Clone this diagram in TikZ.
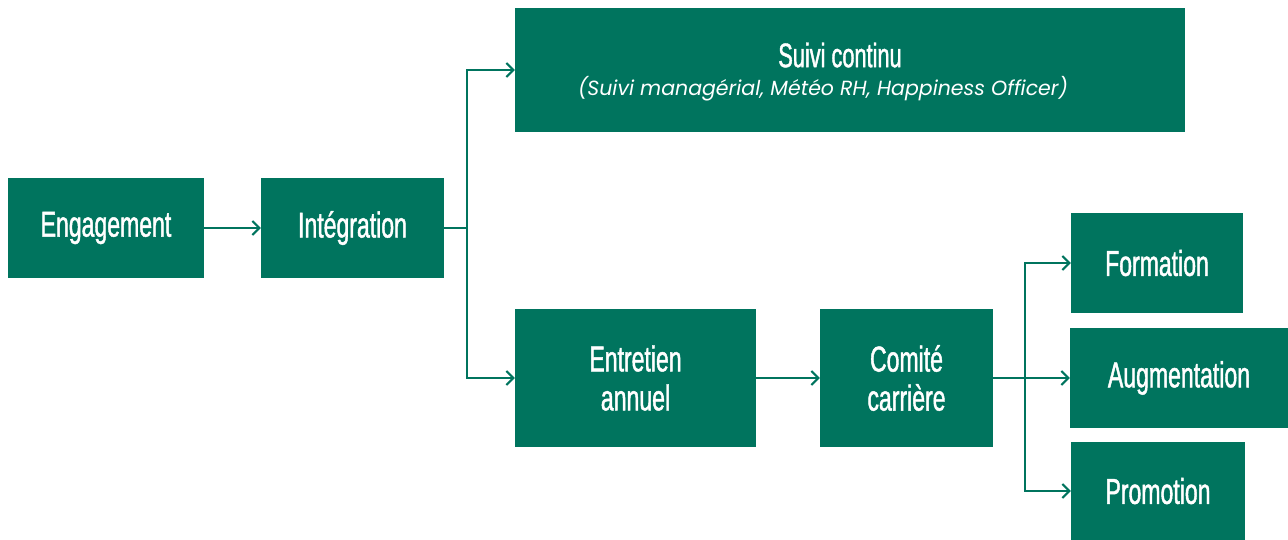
\documentclass[tikz,border=0pt]{standalone}
\usepackage{fontspec}
\setmainfont{Liberation Sans}
\newfontfamily\stepfont[FakeStretch=0.64,FakeBold=1.2]{Liberation Sans}
\newfontfamily\notefont{Poppins}
\usetikzlibrary{arrows.meta}
\definecolor{pine}{RGB}{0,116,94}
\tikzset{
    box/.style={fill=pine, text=white, inner sep=0pt, align=center,
        font=\stepfont\fontsize{36}{39}\selectfont},
    link/.style={draw=pine, line width=2pt,
        -{Straight Barb[length=7pt,width=14pt]}}
}

\begin{document}
\begin{tikzpicture}[x=1pt,y=-1pt]
    \useasboundingbox (0,0) rectangle (1288,540);
    \node[box, minimum width=196pt, minimum height=100pt] (engagement) at (106,228) {Engagement};
    \node[box, minimum width=183pt, minimum height=100pt] (integration) at (352.5,228) {Intégration};
    \node[box, minimum width=670pt, minimum height=124pt] (suivi) at (850,70) {};
    \node[text=white, inner sep=0pt, font=\stepfont\fontsize{34}{36}\selectfont] (suivititle) at (840,55) {Suivi continu};
    \node[text=white, inner sep=0pt, font=\notefont\itshape\fontsize{20.5}{24}\selectfont] (suivinote) at (823,89) {(Suivi managérial, Météo RH, Happiness Officer)};
    \node[box, minimum width=241pt, minimum height=138pt] (entretien) at (635.5,378) {Entretien\\annuel};
    \node[box, minimum width=173pt, minimum height=138pt] (comite) at (906.5,378) {Comité\\carrière};
    \node[box, minimum width=172pt, minimum height=100pt] (formation) at (1157,263) {Formation};
    \node[box, minimum width=218pt, minimum height=100pt] (augmentation) at (1179,378) {Augmentation};
    \node[box, minimum width=174pt, minimum height=98pt] (promotion) at (1158,491) {Promotion};

    \coordinate (split) at (467,228);
    \coordinate (fork) at (1025,378);
    \draw[link] (engagement) -- (integration);
    \draw[link] (integration.east) -- (split) |- (suivi.west);
    \draw[link] (split) |- (entretien.west);
    \draw[link] (entretien) -- (comite);
    \draw[link] (comite.east) -- (fork) |- (formation.west);
    \draw[link] (fork) -- (augmentation.west);
    \draw[link] (fork) |- (promotion.west);
\end{tikzpicture}
\end{document}
